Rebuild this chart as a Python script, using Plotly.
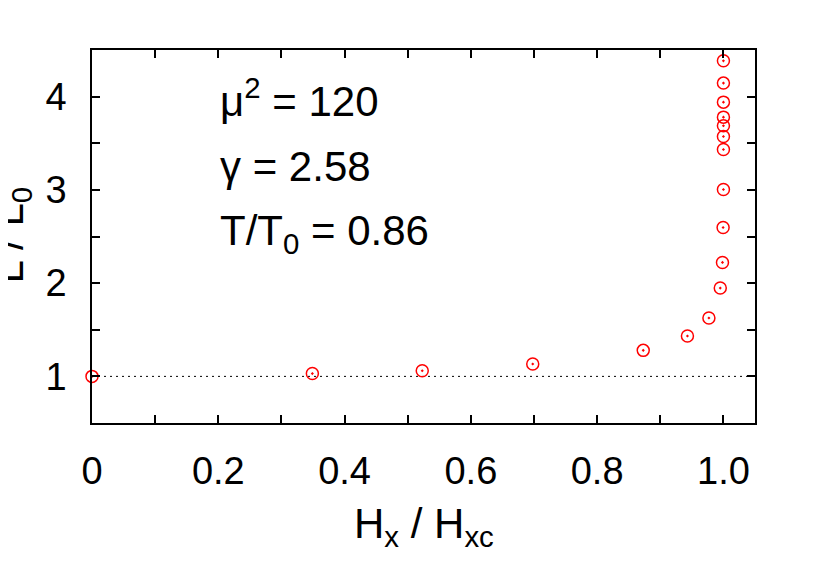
import plotly.graph_objects as go

# data
hx_ratio = [0, 0.349, 0.523, 0.698, 0.873, 0.943, 0.977, 0.995, 0.9985, 0.9995,
            1.0, 1.0, 1.0, 1.0, 1.0, 1.0, 1.0, 1.0]
l_ratio = [1.0, 1.03, 1.06, 1.133, 1.279, 1.433, 1.626, 1.947, 2.222, 2.597,
           3.004, 3.433, 3.572, 3.687, 3.780, 3.941, 4.145, 4.384]

x_tickvals = [0, 0.1, 0.2, 0.3, 0.4, 0.5, 0.6, 0.7, 0.8, 0.9, 1.0]
x_ticktext = ["0", "", "0.2", "", "0.4", "", "0.6", "", "0.8", "", "1.0"]
y_tickvals = [0.5, 1, 1.5, 2, 2.5, 3, 3.5, 4, 4.5]
y_ticktext = ["", "1", "", "2", "", "3", "", "4", ""]
reference_level = 1.0

labels = ["μ<sup>2</sup> = 120", "γ = 2.58", "T/T<sub>0</sub> = 0.86"]
x_title = "H<sub>x</sub> / H<sub>xc</sub>"
y_title = "L / L<sub>0</sub>"

FONT = "Liberation Sans, Arial, Helvetica, sans-serif"
FS = 38
FS_TXT = 42

fig = go.Figure()
fig.add_trace(go.Scatter(
    x=hx_ratio, y=l_ratio, mode="markers", cliponaxis=False,
    marker=dict(symbol="circle-open-dot", size=12, color="red",
                line=dict(color="red", width=1.5)),
    showlegend=False,
))

fig.add_shape(type="line", xref="paper", x0=0, x1=1, yref="y",
              y0=reference_level, y1=reference_level,
              line=dict(color="black", width=1, dash="2px,4px"), layer="below")

axis_common = dict(showline=True, linecolor="black", linewidth=1.5, mirror="ticks",
                   ticks="inside", ticklen=8, tickwidth=1.5, tickcolor="black",
                   showgrid=False, zeroline=False,
                   tickfont=dict(family=FONT, size=FS, color="black"))

fig.update_xaxes(range=[0, 1.05], tickmode="array", tickvals=x_tickvals,
                 ticktext=x_ticktext, ticklabelstandoff=14, **axis_common)
fig.update_yaxes(range=[0.5, 4.5], tickmode="array", tickvals=y_tickvals,
                 ticktext=y_ticktext, ticklabelstandoff=16, **axis_common)

ann = []
for lab, yp in zip(labels, [0.870, 0.689, 0.508]):
    ann.append(dict(text=lab, xref="paper", yref="paper", x=0.19, y=yp,
                    xanchor="left", yanchor="middle", showarrow=False,
                    font=dict(family=FONT, size=FS_TXT, color="black")))
ann.append(dict(text=x_title, xref="paper", yref="paper", x=0.5, y=-0.2,
                xanchor="center", yanchor="top", showarrow=False,
                font=dict(family=FONT, size=FS_TXT, color="black")))
ann.append(dict(text=y_title, xref="paper", yref="paper", x=-0.078, y=0.505,
                xanchor="right", yanchor="middle", textangle=-90, showarrow=False,
                font=dict(family=FONT, size=FS_TXT, color="black")))

fig.update_layout(
    width=822, height=566,
    margin=dict(l=84, r=75, t=42, b=151),
    paper_bgcolor="white", plot_bgcolor="white",
    annotations=ann,
    font=dict(family=FONT, size=FS, color="black"),
)

fig.write_html("out.html")
